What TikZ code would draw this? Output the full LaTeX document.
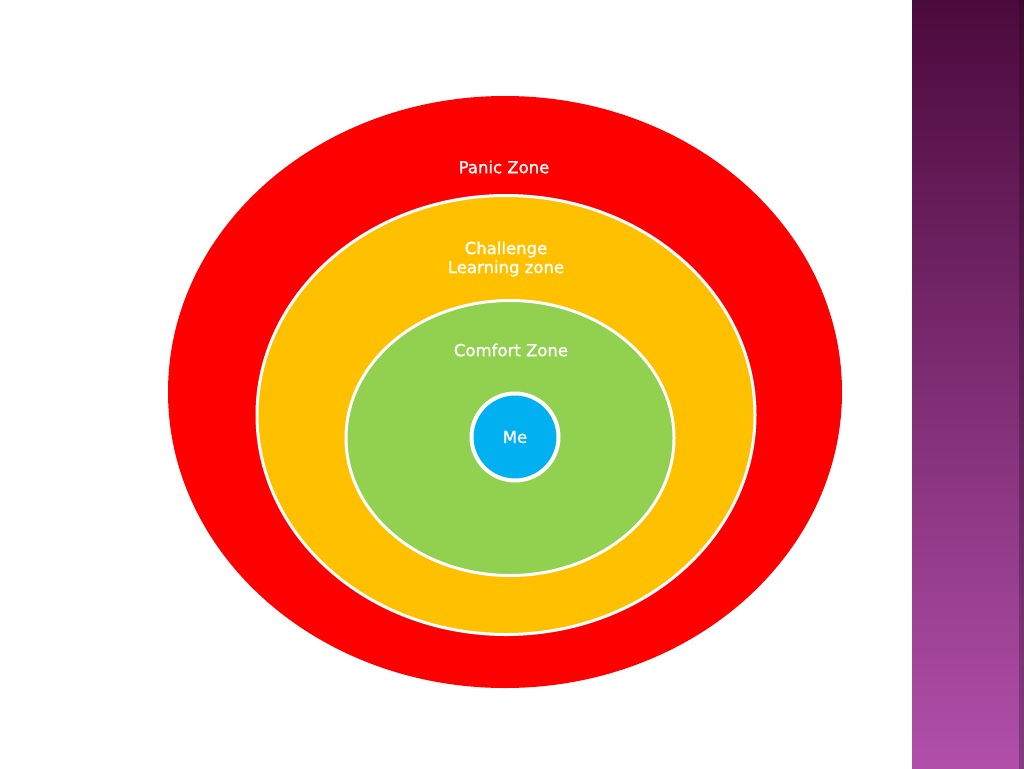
\documentclass[tikz,border=0pt]{standalone}
\usepackage{fontspec}
\setmainfont{DejaVu Sans}
\newfontfamily\zonefont[FakeBold=1.2]{DejaVu Sans}
\usetikzlibrary{shapes.geometric}

\definecolor{panicred}{HTML}{FF0000}
\definecolor{challengeyellow}{HTML}{FFC000}
\definecolor{comfortgreen}{HTML}{92D050}
\definecolor{meblue}{HTML}{00B0F0}
\definecolor{bartop}{HTML}{4B0A3C}
\definecolor{barbottom}{HTML}{B14FAA}

\begin{document}
\begin{tikzpicture}[%
    x=1pt, y=-1pt,
zone/.style={ellipse, inner sep=0pt, draw=white, line width=3pt},
zonelabel/.style={text=white, font=\zonefont\fontsize{16.5}{19}\selectfont, align=center, inner sep=0pt},
]
\useasboundingbox (0,0) rectangle (1024,768);
\fill[white] (0,0) rectangle (1024,768);

% side bar
\shade[top color=bartop, bottom color=barbottom] (912,0) rectangle (1024,768);
\shade[top color=bartop!80!black, bottom color=barbottom!75!black] (1019,0) rectangle (1024,768);

% zones
\node[zone, draw=none, fill=panicred, minimum width=674, minimum height=592] (panic) at (505,392) {};
\node[zone, fill=challengeyellow, minimum width=498, minimum height=439] (challenge) at (506,415) {};
\node[zone, fill=comfortgreen, minimum width=328, minimum height=275] (comfort) at (510,438) {};
\node[zone, circle, fill=meblue, line width=4pt, minimum size=87] (me) at (515,437) {};

% labels
\node[zonelabel] (paniclabel) at (504,167) {Panic Zone};
\node[zonelabel] (challengelabel) at (506,259) {Challenge\\Learning zone};
\node[zonelabel] (comfortlabel) at (511,350) {Comfort Zone};
\node[zonelabel] (melabel) at (515,437) {Me};

\end{tikzpicture}
\end{document}
